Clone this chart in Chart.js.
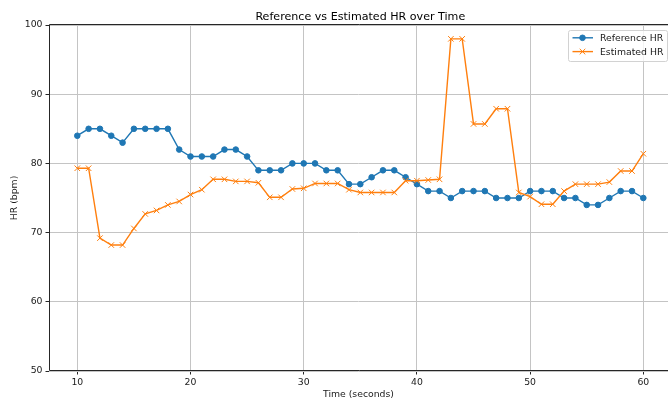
<!DOCTYPE html>
<html>
<head>
<meta charset="utf-8">
<title>Reference vs Estimated HR over Time</title>
<script src="https://cdn.jsdelivr.net/npm/chart.js@4.4.1/dist/chart.umd.min.js"></script>
<style>
  html, body { margin: 0; padding: 0; overflow: hidden; background: #ffffff; }
  canvas { display: block; }
</style>
</head>
<body>
<canvas id="hr" width="668" height="403"></canvas>
<script>
// Time stamps (s) and heart-rate readings (bpm)
const seconds = [10, 11, 12, 13, 14, 15, 16, 17, 18, 19,
                 20, 21, 22, 23, 24, 25, 26, 27, 28, 29,
                 30, 31, 32, 33, 34, 35, 36, 37, 38, 39,
                 40, 41, 42, 43, 44, 45, 46, 47, 48, 49,
                 50, 51, 52, 53, 54, 55, 56, 57, 58, 59,
                 60];

const referenceHR = [84, 85, 85, 84, 83, 85, 85, 85, 85, 82,
                     81, 81, 81, 82, 82, 81, 79, 79, 79, 80,
                     80, 80, 79, 79, 77, 77, 78, 79, 79, 78,
                     77, 76, 76, 75, 76, 76, 76, 75, 75, 75,
                     76, 76, 76, 75, 75, 74, 74, 75, 76, 76,
                     75];

const estimatedHR = [79.3, 79.3, 69.2, 68.2, 68.2, 70.6, 72.7, 73.2, 74.0, 74.5,
                     75.5, 76.2, 77.7, 77.7, 77.4, 77.4, 77.2, 75.1, 75.1, 76.3,
                     76.4, 77.1, 77.1, 77.1, 76.2, 75.8, 75.8, 75.8, 75.8, 77.5,
                     77.5, 77.6, 77.7, 98.0, 98.0, 85.7, 85.7, 87.9, 87.9, 75.8,
                     75.2, 74.1, 74.1, 76.0, 77.0, 77.0, 77.0, 77.3, 78.9, 78.9,
                     81.4];

const xTickValues = [10, 20, 30, 40, 50, 60];
const yTickValues = [50, 60, 70, 80, 90, 100];
const seriesNames = ['Reference HR', 'Estimated HR'];
const seriesColors = ['#1f77b4', '#ff7f0e'];
const seriesMarkers = ['circle', 'crossRot'];
const chartTitle = 'Reference vs Estimated HR over Time';

// x limits: the full axes span 7.5–62.5 s, the canvas shows up to 62.18 s
const xLimits = { min: 7.5, max: 62.5, visibleMax: 62.18 };

const FONT = "'DejaVu Sans', 'Liberation Sans', sans-serif";
const INK = '#1a1a1a';
const GRID = '#c4c4c4';

// right edge of the full axes box (lies just past the canvas edge)
function axesRight(chart) {
  return chart.scales.x.getPixelForValue(xLimits.max);
}

// Title centred over the full axes box
const titleBand = {
  id: 'titleBand',
  afterDraw(chart) {
    const { ctx, chartArea: a } = chart;
    ctx.save();
    ctx.fillStyle = '#000';
    ctx.font = '11.1px ' + FONT;
    ctx.textAlign = 'center';
    ctx.textBaseline = 'alphabetic';
    ctx.fillText(chartTitle, (a.left + axesRight(chart)) / 2, 20.3);
    ctx.restore();
  }
};

// Left, top and bottom spines, drawn above the lines
const axesFrame = {
  id: 'axesFrame',
  afterDatasetsDraw(chart) {
    const { ctx, chartArea: a } = chart;
    const l = Math.floor(a.left) + 0.5;
    const t = Math.floor(a.top) - 0.5;
    const b = Math.floor(a.bottom) - 0.5;
    const r = a.right + 2;
    ctx.save();
    ctx.strokeStyle = '#262626';
    ctx.lineWidth = 1;
    ctx.beginPath();
    ctx.moveTo(r, t); ctx.lineTo(l, t); ctx.lineTo(l, b); ctx.lineTo(r, b);
    ctx.stroke();
    ctx.restore();
  }
};

function drawMarker(ctx, style, x, y, color) {
  ctx.strokeStyle = color;
  ctx.fillStyle = color;
  ctx.lineWidth = 1;
  ctx.beginPath();
  if (style === 'circle') {
    ctx.arc(x, y, 2.8, 0, Math.PI * 2);
    ctx.fill();
    ctx.stroke();
  } else {
    const h = 2.8;
    ctx.moveTo(x - h, y - h); ctx.lineTo(x + h, y + h);
    ctx.moveTo(x - h, y + h); ctx.lineTo(x + h, y - h);
    ctx.stroke();
  }
}

// Legend box in the upper-right corner of the axes
const cornerLegend = {
  id: 'cornerLegend',
  afterDraw(chart) {
    const ctx = chart.ctx;
    const a = chart.chartArea;
    const w = 99, h = 31;
    const x0 = Math.round(axesRight(chart) - 4.6 - w), y0 = Math.round(a.top + 5);
    ctx.save();
    ctx.beginPath();
    ctx.roundRect(x0 + 0.5, y0 + 0.5, w, h, 2);
    ctx.fillStyle = 'rgba(255,255,255,0.8)';
    ctx.fill();
    ctx.strokeStyle = '#d2d2d2';
    ctx.lineWidth = 1;
    ctx.stroke();
    chart.data.datasets.forEach((ds, i) => {
      const cy = y0 + 7.8 + i * 13.8;
      ctx.beginPath();
      ctx.strokeStyle = ds.borderColor;
      ctx.lineWidth = 1.4;
      ctx.moveTo(x0 + 4.5, cy);
      ctx.lineTo(x0 + 25, cy);
      ctx.stroke();
      drawMarker(ctx, seriesMarkers[i], x0 + 14.5, cy, ds.borderColor);
      ctx.fillStyle = INK;
      ctx.font = '9.3px ' + FONT;
      ctx.textAlign = 'left';
      ctx.textBaseline = 'middle';
      ctx.fillText(ds.label, x0 + 32, cy + 0.5);
    });
    ctx.restore();
  }
};

const tickFont = { family: FONT, size: 9.3 };

new Chart(document.getElementById('hr'), {
  type: 'line',
  data: {
    datasets: [
      {
        label: seriesNames[0],
        data: seconds.map((s, i) => ({ x: s, y: referenceHR[i] })),
        borderColor: seriesColors[0],
        backgroundColor: seriesColors[0],
        borderWidth: 1.4,
        pointStyle: seriesMarkers[0],
        pointRadius: 2.8,
        pointBorderWidth: 1,
        tension: 0,
        fill: false,
        order: 1
      },
      {
        label: seriesNames[1],
        data: seconds.map((s, i) => ({ x: s, y: estimatedHR[i] })),
        borderColor: seriesColors[1],
        backgroundColor: seriesColors[1],
        borderWidth: 1.4,
        pointStyle: seriesMarkers[1],
        pointRadius: 3.9,
        pointBorderWidth: 1,
        tension: 0,
        fill: false,
        order: 0
      }
    ]
  },
  options: {
    responsive: false,
    animation: false,
    devicePixelRatio: 1,
    layout: { autoPadding: false, padding: { left: 0, right: 0, top: 25, bottom: 0 } },
    plugins: {
      legend: { display: false },
      tooltip: { enabled: false },
      title: { display: false }
    },
    scales: {
      x: {
        type: 'linear',
        min: xLimits.min,
        max: xLimits.visibleMax,
        afterBuildTicks: s => { s.ticks = xTickValues.map(v => ({ value: v })); },
        afterFit: s => { s.height = 32; s.paddingLeft = 0; s.paddingRight = 0; },
        ticks: { color: INK, font: tickFont, padding: 3, maxRotation: 0, autoSkip: false },
        grid: { color: GRID, lineWidth: 1, tickColor: '#262626', tickWidth: 1, tickLength: 3.5 },
        border: { display: false },
        title: {
          display: true, text: 'Time (seconds)', color: INK,
          font: { family: FONT, size: 9.3, lineHeight: 1.2 },
          padding: { top: 0, bottom: 2.4 }
        }
      },
      y: {
        type: 'linear',
        min: 50,
        max: 100,
        afterBuildTicks: s => { s.ticks = yTickValues.map(v => ({ value: v })); },
        afterFit: s => { s.width = 49; s.paddingTop = 0; s.paddingBottom = 0; },
        ticks: { color: INK, font: tickFont, padding: 3, autoSkip: false },
        grid: { color: GRID, lineWidth: 1, tickColor: '#262626', tickWidth: 1, tickLength: 3.5 },
        border: { display: false },
        title: {
          display: true, text: 'HR (bpm)', color: INK,
          font: { family: FONT, size: 9.3, lineHeight: 1.2 },
          padding: { top: 9.4, bottom: 0 }
        }
      }
    }
  },
  plugins: [titleBand, axesFrame, cornerLegend]
});
</script>
</body>
</html>
